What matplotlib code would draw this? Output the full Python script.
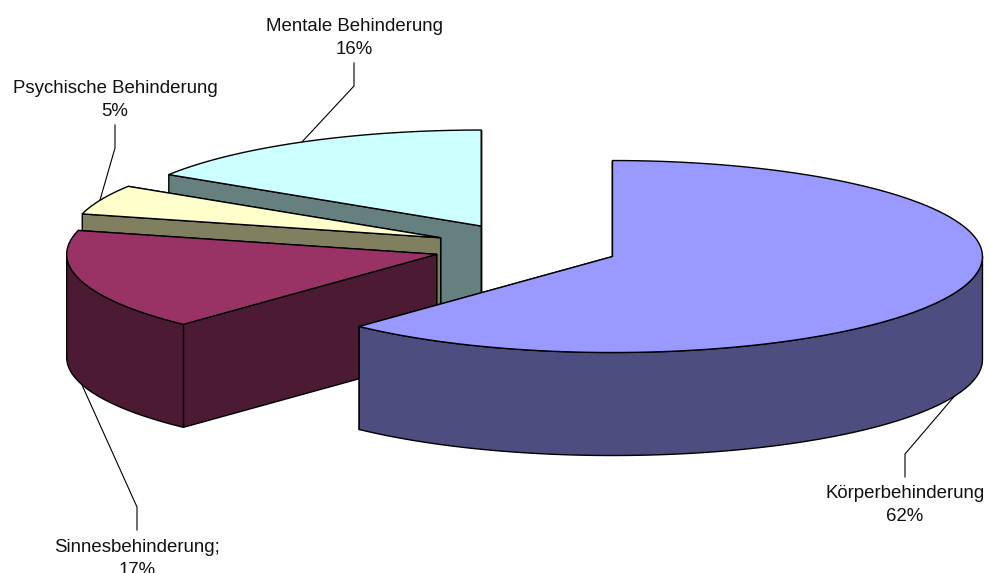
import matplotlib

matplotlib.use("Agg")
import matplotlib.pyplot as plt
import numpy as np
from matplotlib.patches import Polygon

plt.rcParams["font.family"] = ["Liberation Sans", "DejaVu Sans"]

# Slices, clockwise from 12 o'clock
categories = ["Körperbehinderung", "Sinnesbehinderung;", "Psychische Behinderung", "Mentale Behinderung"]
values = [62, 17, 5, 16]
top_colors = ["#9999FF", "#993366", "#FFFFCC", "#CCFFFF"]
side_colors = ["#4D4D80", "#4D1A33", "#808060", "#668080"]

# Label anchors and leader lines, in pixels
label_pos = [(905, 505), (137, 559), (115, 100), (354, 38)]
leaders = [
    [(905, 477), (905, 454), (958, 392)],
    [(137, 530), (137, 507), (82, 385)],
    [(115, 125), (115, 148), (100, 200)],
    [(354, 63), (354, 86), (301, 143)],
]

# Pie geometry in pixels
CENTER = (526, 247.5)
RX, RY = 370, 96
DEPTH = 103
EXPLODE_X, EXPLODE_Y = 93, 24.5
EDGE = 1.0


def rim(apex, start, end, n=120):
    theta = np.radians(np.linspace(start, end, n))
    return np.column_stack(
        [apex[0] + RX * np.sin(theta), apex[1] - RY * np.cos(theta)]
    )


def add_face(ax, points, color, zorder):
    ax.add_patch(
        Polygon(points, closed=True, facecolor=color, edgecolor="black",
                linewidth=EDGE, joinstyle="round", zorder=zorder)
    )


def cut_face(apex, angle):
    edge = rim(apex, angle, angle, 1)[0]
    drop = np.array([0, DEPTH])
    apex = np.array(apex)
    return np.array([apex, edge, edge + drop, apex + drop])


def draw_slice(ax, start, end, top, side, zorder):
    mid = np.radians((start + end) / 2)
    apex = (
        CENTER[0] + EXPLODE_X * np.sin(mid),
        CENTER[1] - EXPLODE_Y * np.cos(mid),
    )

    # Back to front: far cut, near cut, outer wall, top
    add_face(ax, cut_face(apex, end), side, zorder)
    add_face(ax, cut_face(apex, start), side, zorder)

    wall_start, wall_end = max(start, 90), min(end, 270)
    if wall_start < wall_end:
        arc = rim(apex, wall_start, wall_end)
        add_face(ax, np.vstack([arc, arc[::-1] + [0, DEPTH]]), side, zorder)

    add_face(ax, np.vstack([[apex], rim(apex, start, end)]), top, zorder)


def main():
    fig = plt.figure(figsize=(9.89, 5.73), dpi=100)
    ax = fig.add_axes([0, 0, 1, 1])
    ax.set_xlim(0, 989)
    ax.set_ylim(573, 0)
    ax.axis("off")

    bounds = np.concatenate([[0], np.cumsum(values)]) / np.sum(values) * 360

    # Back slices first so the front ones cover them
    for i in [3, 2, 1, 0]:
        draw_slice(ax, bounds[i], bounds[i + 1], top_colors[i], side_colors[i], 2 + 3 - i)

    for name, value, pos, line in zip(categories, values, label_pos, leaders):
        ax.text(pos[0], pos[1], f"{name}\n{value}%", ha="center", va="center",
                fontsize=13.45, color="#111111", linespacing=1.42, zorder=10)
        xs, ys = zip(*line)
        ax.plot(xs, ys, color="black", linewidth=0.8, zorder=1)

    fig.savefig("out.png", dpi=100, facecolor="white")


if __name__ == "__main__":
    main()
